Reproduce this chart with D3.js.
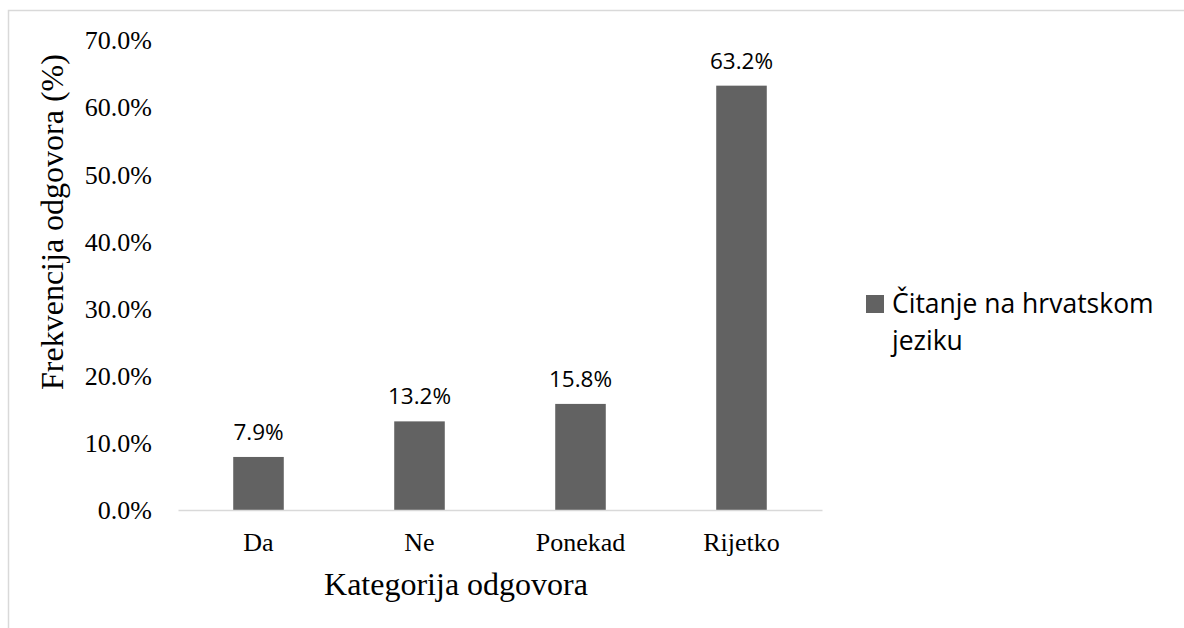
<!DOCTYPE html>
<html>
<head>
<meta charset="utf-8">
<script src="https://cdn.jsdelivr.net/npm/d3@7"></script>
<style>
  html, body { margin: 0; padding: 0; background: #ffffff; overflow: hidden; }
</style>
</head>
<body>
<svg id="chart" width="1184" height="628"></svg>
<script>
// data
let categories = ["Da", "Ne", "Ponekad", "Rijetko"];
let values = [7.9, 13.2, 15.8, 63.2];
let yTicks = [0, 10, 20, 30, 40, 50, 60, 70];
let seriesName = ["Čitanje na hrvatskom", "jeziku"];

let barColor = "#626262";
let gridColor = "#d9d9d9";
let textColor = "#000000";
let serif = "'Liberation Serif', 'Times New Roman', serif";
let sans = "'Open Sans', 'Noto Sans', sans-serif";

let svg = d3.select("#chart");

// outer chart border (only left/top visible in the picture)
svg.append("rect")
  .attr("x", 8.5)
  .attr("y", 10.5)
  .attr("width", 1300)
  .attr("height", 800)
  .attr("fill", "none")
  .attr("stroke", gridColor)
  .attr("stroke-width", 1.5);

let x = d3.scaleBand()
  .domain(categories)
  .range([178, 822])
  .paddingInner(0.686)
  .paddingOuter(0.343);

let y = d3.scaleLinear()
  .domain([0, 70])
  .range([510, 40]);

// bars
svg.selectAll("rect.bar")
  .data(values)
  .join("rect")
  .attr("class", "bar")
  .attr("x", (d, i) => x(categories[i]))
  .attr("y", d => y(d))
  .attr("width", x.bandwidth())
  .attr("height", d => y(0) - y(d))
  .attr("fill", barColor);

// x axis
let xAxis = svg.append("g")
  .attr("transform", "translate(0," + y(0) + ")")
  .call(d3.axisBottom(x).tickSize(0));
xAxis.select(".domain")
  .attr("stroke", gridColor)
  .attr("stroke-width", 1.5);
xAxis.selectAll("text")
  .attr("y", 41)
  .attr("dy", 0)
  .attr("fill", textColor)
  .style("font-family", serif)
  .style("font-size", "26px");

// y axis
let yAxis = svg.append("g")
  .attr("transform", "translate(178,0)")
  .call(d3.axisLeft(y).tickValues(yTicks).tickSize(0).tickPadding(26)
    .tickFormat(d => d.toFixed(1) + "%"));
yAxis.select(".domain").remove();
yAxis.selectAll("text")
  .attr("fill", textColor)
  .attr("dy", "0.34em")
  .style("font-family", serif)
  .style("font-size", "26px");

// data labels
svg.selectAll("text.lbl")
  .data(values)
  .join("text")
  .attr("class", "lbl")
  .attr("x", (d, i) => x(categories[i]) + x.bandwidth() / 2)
  .attr("y", d => y(d) - 17)
  .attr("text-anchor", "middle")
  .attr("fill", textColor)
  .style("font-family", sans)
  .style("font-size", "22.5px")
  .text(d => d.toFixed(1) + "%");

// axis titles
svg.append("text")
  .attr("x", 456)
  .attr("y", 595)
  .attr("text-anchor", "middle")
  .attr("fill", textColor)
  .style("font-family", serif)
  .style("font-size", "32px")
  .text("Kategorija odgovora");

svg.append("text")
  .attr("transform", "translate(63,222) rotate(-90)")
  .attr("text-anchor", "middle")
  .attr("fill", textColor)
  .style("font-family", serif)
  .style("font-size", "32px")
  .text("Frekvencija odgovora (%)");

// legend
svg.append("rect")
  .attr("x", 866)
  .attr("y", 295)
  .attr("width", 18)
  .attr("height", 18)
  .attr("fill", barColor);

svg.append("text")
  .attr("fill", textColor)
  .style("font-family", sans)
  .style("font-size", "26.5px")
  .selectAll("tspan")
  .data(seriesName)
  .join("tspan")
  .attr("x", 892)
  .attr("y", (d, i) => 313 + i * 37)
  .text(d => d);
</script>
</body>
</html>
